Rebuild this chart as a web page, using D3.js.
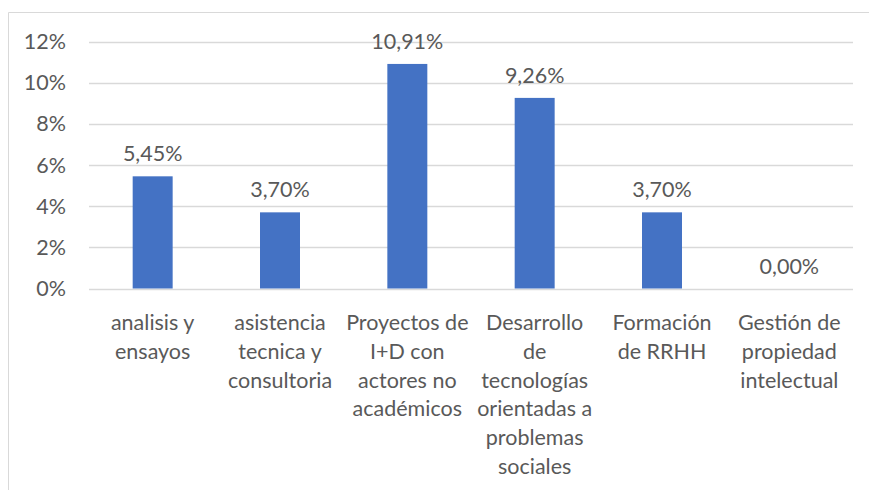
<!DOCTYPE html>
<meta charset="utf-8">
<style>
body { margin: 0; background: #fff; }
svg text { font-family: Lato, "Open Sans", sans-serif; fill: #595959; }
</style>
<svg width="869" height="490"></svg>
<script src="https://cdn.jsdelivr.net/npm/d3@7"></script>
<script>

// data
var categories = [
  ["analisis y", "ensayos"],
  ["asistencia", "tecnica y", "consultoria"],
  ["Proyectos de", "I+D con", "actores no", "académicos"],
  ["Desarrollo", "de", "tecnologías", "orientadas a", "problemas", "sociales"],
  ["Formación", "de RRHH"],
  ["Gestión de", "propiedad", "intelectual"]
];
var values = [5.45, 3.70, 10.91, 9.26, 3.70, 0.00];
var yTicks = [0, 2, 4, 6, 8, 10, 12];

var svg = d3.select("svg");

var plotLeft = 89, plotRight = 853, plotTop = 41.5, plotBottom = 288.5,
    fontSize = "21.5px";

// outer frame (right and bottom are cut off in the reference)
svg.append("path")
    .attr("d", "M8.5,490 L8.5,12.5 L869,12.5")
    .attr("fill", "none")
    .attr("stroke", "#d9d9d9")
    .attr("stroke-width", 1);

var x = d3.scaleBand()
    .domain(d3.range(categories.length))
    .range([plotLeft, plotRight])
    .paddingInner(0.686)
    .paddingOuter(0.343);

var y = d3.scaleLinear()
    .domain([0, 12])
    .range([plotBottom, plotTop]);

// gridlines
svg.append("g")
  .selectAll("line")
  .data(yTicks)
  .enter().append("line")
    .attr("x1", plotLeft)
    .attr("x2", plotRight)
    .attr("y1", function(d) { return Math.round(y(d)) + 0.5; })
    .attr("y2", function(d) { return Math.round(y(d)) + 0.5; })
    .attr("stroke", "#d9d9d9")
    .attr("stroke-width", 1.3);

// y labels
svg.append("g")
  .selectAll("text")
  .data(yTicks)
  .enter().append("text")
    .attr("x", 66)
    .attr("y", function(d) { return y(d); })
    .attr("dy", "0.35em")
    .attr("text-anchor", "end")
    .style("font-size", fontSize)
    .text(function(d) { return d + "%"; });

// bars
svg.append("g")
  .selectAll("rect")
  .data(values)
  .enter().append("rect")
    .attr("x", function(d, i) { return x(i); })
    .attr("width", x.bandwidth())
    .attr("y", function(d) { return y(d); })
    .attr("height", function(d) { return plotBottom - y(d); })
    .attr("fill", "#4472c4");

// value labels
svg.append("g")
  .selectAll("text")
  .data(values)
  .enter().append("text")
    .attr("x", function(d, i) { return x(i) + x.bandwidth() / 2; })
    .attr("y", function(d) { return y(d) - 15; })
    .attr("text-anchor", "middle")
    .style("font-size", fontSize)
    .text(function(d) { return d.toFixed(2).replace(".", ",") + "%"; });

// category labels
var cat = svg.append("g")
  .selectAll("text")
  .data(categories)
  .enter().append("text")
    .attr("text-anchor", "middle")
    .style("font-size", fontSize);

cat.selectAll("tspan")
  .data(function(d, i) { return d.map(function(s) { return {s: s, i: i}; }); })
  .enter().append("tspan")
    .attr("x", function(d) { return x(d.i) + x.bandwidth() / 2; })
    .attr("y", function(d, j) { return 330 + j * 28.8; })
    .text(function(d) { return d.s; });

</script>
